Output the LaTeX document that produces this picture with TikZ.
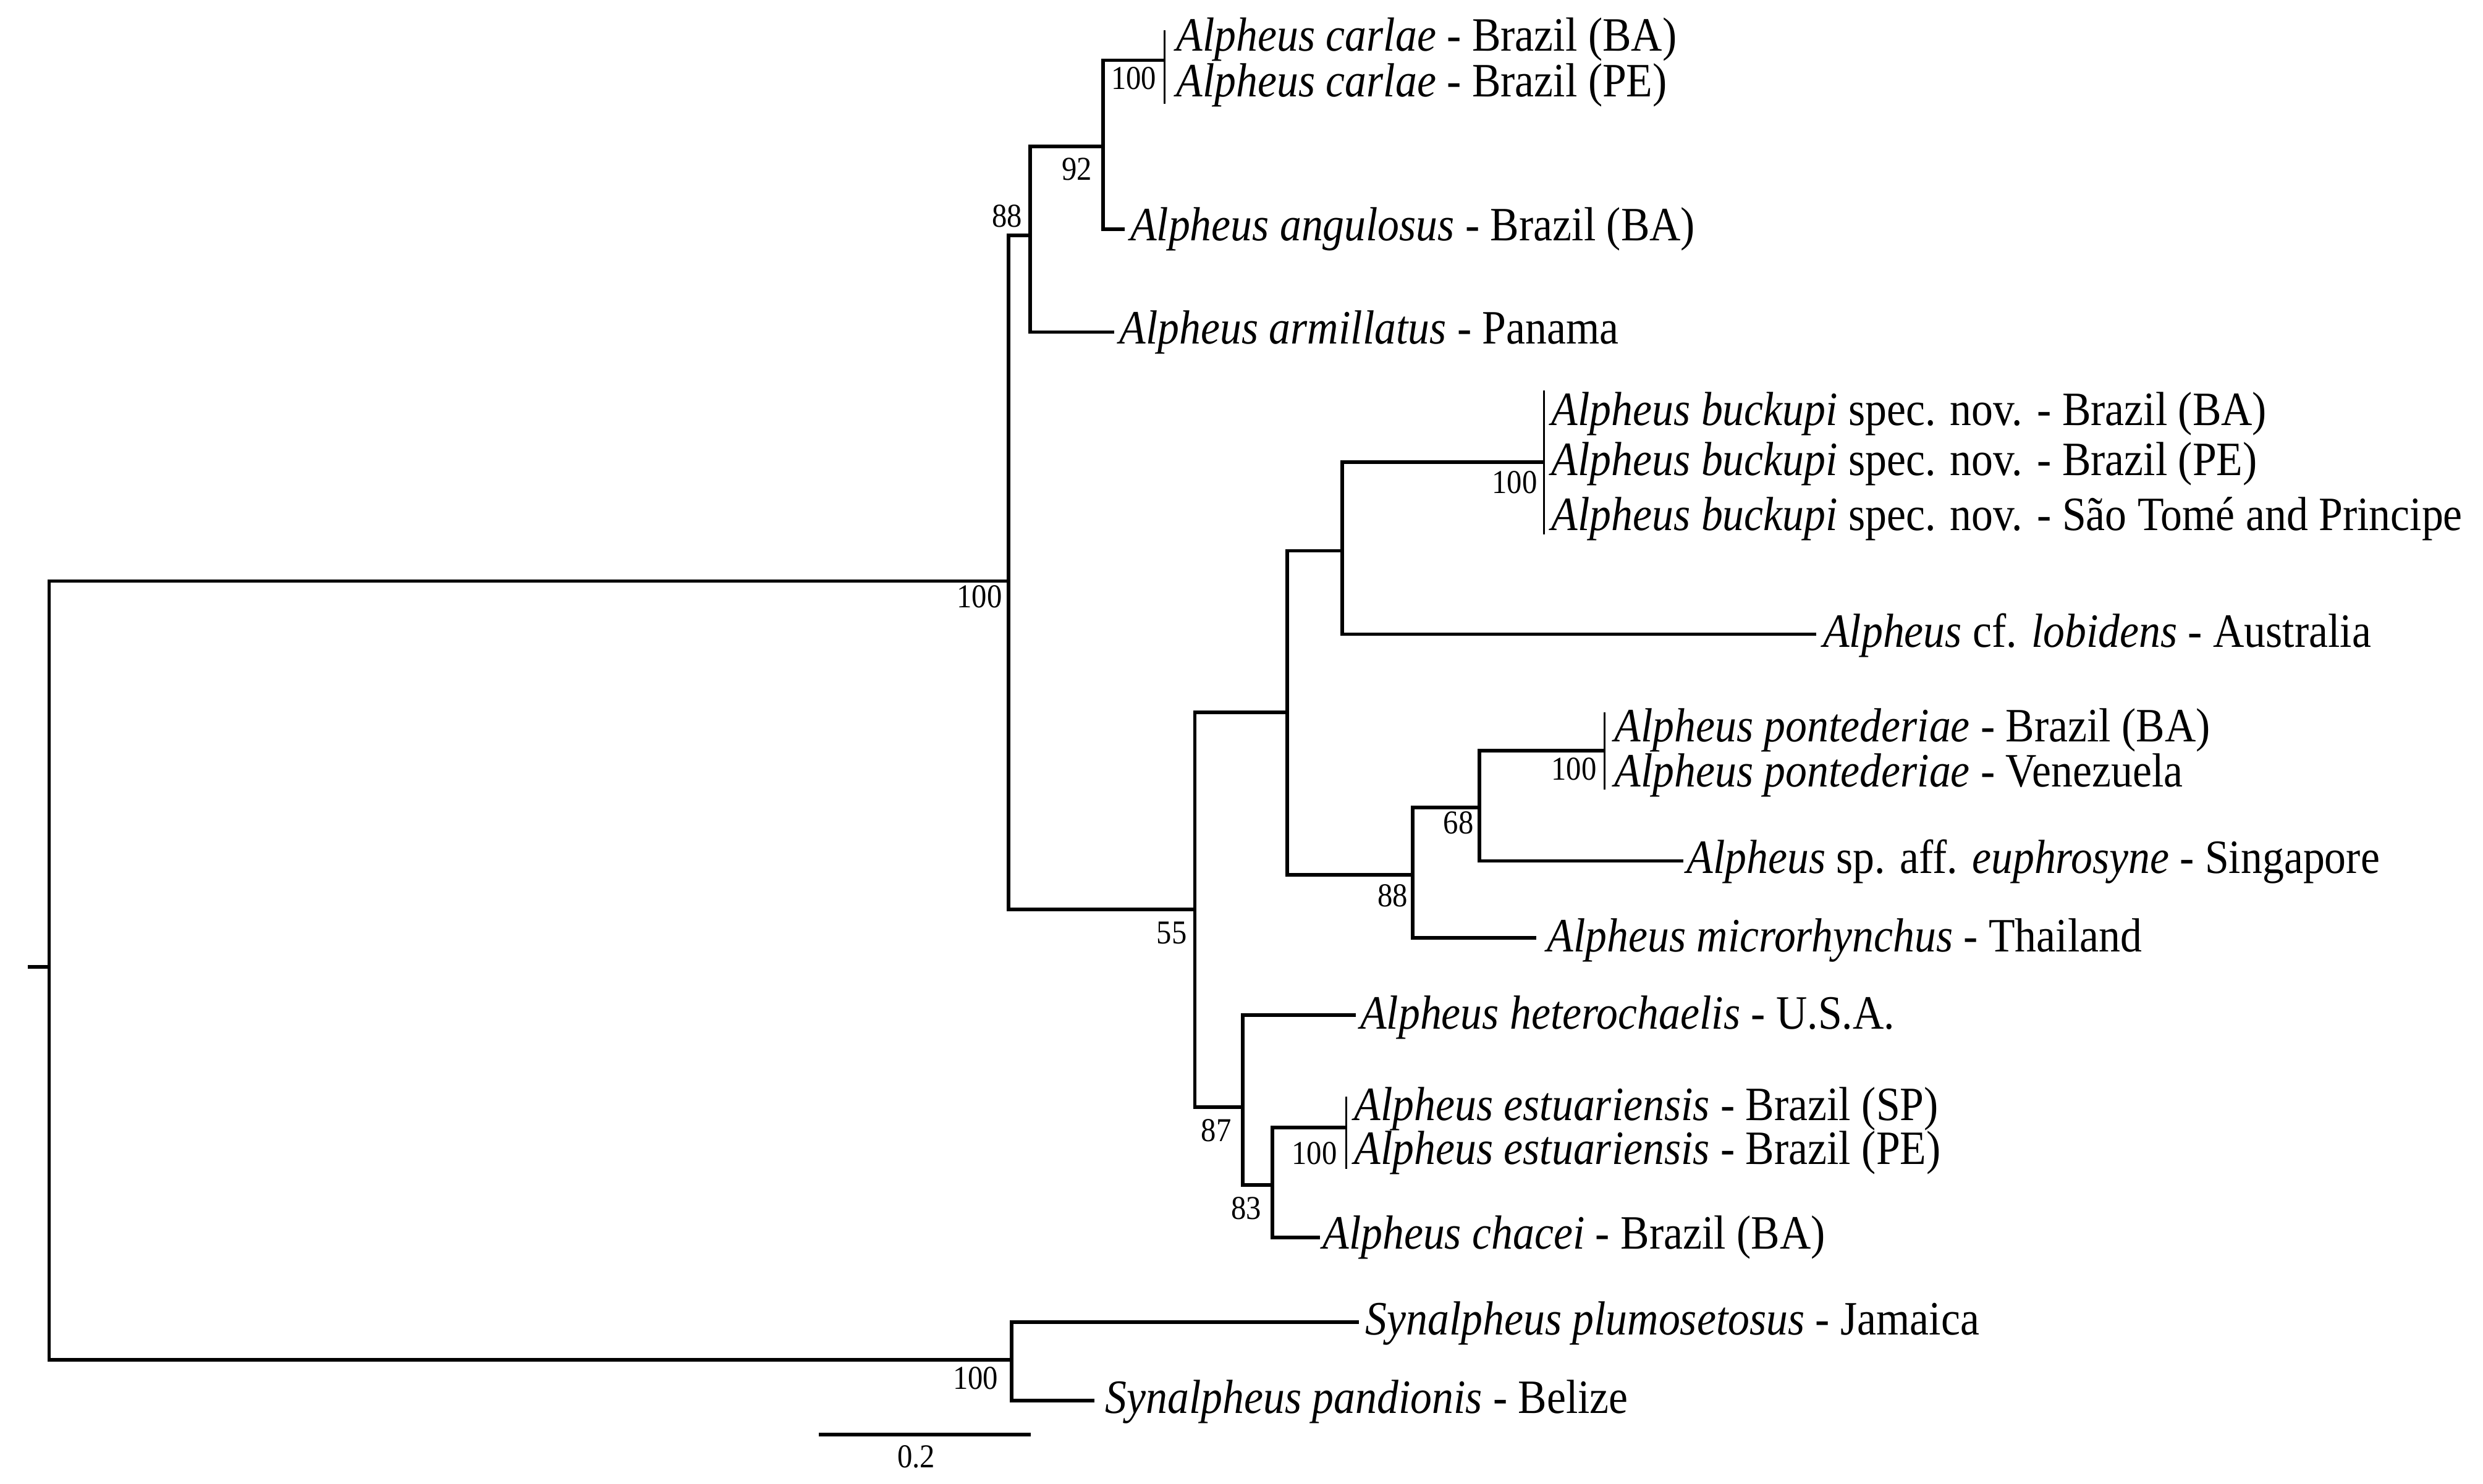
\documentclass[tikz,border=0pt]{standalone}
\usepackage{fontspec}
\setmainfont{Liberation Serif}[FakeStretch=0.9]
\usetikzlibrary{positioning}

\begin{document}
\begin{tikzpicture}[
  x=0.025cm, y=-0.025cm,
  branch/.style={line width=1.6pt},
  tipbar/.style={line width=0.8pt},
  taxon/.style={anchor=base west, inner sep=0pt, font=\fontsize{21.5}{25}\selectfont},
  boot/.style={inner sep=0pt, font=\fontsize{15}{17}\selectfont}
]
  \useasboundingbox (0,0) rectangle (1568,937);

  % internal nodes
  \coordinate (root0) at (17.6,610.7);
  \coordinate (root) at (31,610.7);
  \coordinate (nA) at (637,367);
  \coordinate (nSyn) at (638.7,858.8);
  \coordinate (n88) at (650.4,148.6);
  \coordinate (n92) at (696.7,92.6);
  \coordinate (nCar) at (735.5,38.1);
  \coordinate (n55) at (754.5,574.3);
  \coordinate (nUp) at (812.8,450);
  \coordinate (nBuc) at (847.6,347.9);
  \coordinate (nBucC) at (975,292);
  \coordinate (n88b) at (892.1,552.5);
  \coordinate (n68) at (934.2,510);
  \coordinate (nPon) at (1013.3,474.2);
  \coordinate (n87) at (784.7,699.2);
  \coordinate (n83) at (803.5,748.6);
  \coordinate (nEst) at (850,712.2);

  % branch tips
  \coordinate (tAng) at (710.2,144.9);
  \coordinate (tArm) at (703.5,209.8);
  \coordinate (tLob) at (1147,400.6);
  \coordinate (tEup) at (1063,543.8);
  \coordinate (tMic) at (970,592.5);
  \coordinate (tHet) at (856.1,641.3);
  \coordinate (tCha) at (833.5,781.8);
  \coordinate (tPlu) at (858,835.1);
  \coordinate (tPan) at (691,884.6);

  % ends of the bars of identical sequences
  \coordinate (carT) at (735.5,19.1);
  \coordinate (carB) at (735.5,65.7);
  \coordinate (bucT) at (975,246.5);
  \coordinate (bucB) at (975,337.5);
  \coordinate (ponT) at (1013.3,450.1);
  \coordinate (ponB) at (1013.3,498.9);
  \coordinate (estT) at (850,692.7);
  \coordinate (estB) at (850,738.2);

  % scale bar
  \coordinate (sbL) at (517,906);
  \coordinate (sbR) at (651,906);

  % branches
  \draw[branch] (root0) -- (root);
  \draw[branch] (nA) -| (root) |- (nSyn);
  \draw[branch] (n88) -| (nA) |- (n55);
  \draw[branch] (n92) -| (n88) |- (tArm);
  \draw[branch] (nCar) -| (n92) |- (tAng);
  \draw[branch] (nUp) -| (n55) |- (n87);
  \draw[branch] (nBuc) -| (nUp) |- (n88b);
  \draw[branch] (nBucC) -| (nBuc) |- (tLob);
  \draw[branch] (n68) -| (n88b) |- (tMic);
  \draw[branch] (nPon) -| (n68) |- (tEup);
  \draw[branch] (tHet) -| (n87) |- (n83);
  \draw[branch] (nEst) -| (n83) |- (tCha);
  \draw[branch] (tPlu) -| (nSyn) |- (tPan);
  \draw[tipbar] (carT) -- (carB);
  \draw[tipbar] (bucT) -- (bucB);
  \draw[tipbar] (ponT) -- (ponB);
  \draw[tipbar] (estT) -- (estB);
  \draw[branch] (sbL) -- (sbR);

  % bootstrap values
  \node[boot] (bA) at (618.5,377) {100};
  \node[boot] (b88) at (636,136.5) {88};
  \node[boot] (b92) at (680,106.8) {92};
  \node[boot] (bCar) at (716,49.3) {100};
  \node[boot] (b55) at (740,589.3) {55};
  \node[boot] (bBuc) at (956.5,304.7) {100};
  \node[boot] (b88b) at (879.5,565.9) {88};
  \node[boot] (b68) at (921,519.7) {68};
  \node[boot] (bPon) at (994,485.9) {100};
  \node[boot] (b87) at (768,714.2) {87};
  \node[boot] (bEst) at (830,728.5) {100};
  \node[boot] (b83) at (787,763.2) {83};
  \node[boot] (bSyn) at (616,870.5) {100};
  \node[boot] (sbLabel) at (578.5,920) {0.2};

  % taxa
  \node[taxon] (carBA) at (742.7,32.1) {\textit{Alpheus carlae} - Brazil (BA)};
  \node[taxon] (carPE) at (742.7,61.2) {\textit{Alpheus carlae} - Brazil (PE)};
  \node[taxon] (ang) at (713.5,152) {\textit{Alpheus angulosus} - Brazil (BA)};
  \node[taxon] (arm) at (706.8,217.3) {\textit{Alpheus armillatus} - Panama};
  \node[taxon] (bucBA) at (979.6,268.6) {\textit{Alpheus buckupi} spec. nov. - Brazil (BA)};
  \node[taxon] (bucPE) at (979.6,300.4) {\textit{Alpheus buckupi} spec. nov. - Brazil (PE)};
  \node[taxon] (bucST) at (979.6,334.9) {\textit{Alpheus buckupi} spec. nov. - São Tomé and Principe};
  \node[taxon] (lob) at (1151,408.6) {\textit{Alpheus} cf. \textit{lobidens} - Australia};
  \node[taxon] (ponBA) at (1019.3,468.3) {\textit{Alpheus pontederiae} - Brazil (BA)};
  \node[taxon] (ponVE) at (1019.3,497) {\textit{Alpheus pontederiae} - Venezuela};
  \node[taxon] (eup) at (1065,551.8) {\textit{Alpheus} sp. aff. \textit{euphrosyne} - Singapore};
  \node[taxon] (mic) at (976.8,601) {\textit{Alpheus microrhynchus} - Thailand};
  \node[taxon] (het) at (858.7,650) {\textit{Alpheus heterochaelis} - U.S.A.};
  \node[taxon] (estSP) at (855,707.7) {\textit{Alpheus estuariensis} - Brazil (SP)};
  \node[taxon] (estPE) at (855,735.6) {\textit{Alpheus estuariensis} - Brazil (PE)};
  \node[taxon] (cha) at (835,789) {\textit{Alpheus chacei} - Brazil (BA)};
  \node[taxon] (plu) at (862,843) {\textit{Synalpheus plumosetosus} - Jamaica};
  \node[taxon] (pan) at (697.7,892.5) {\textit{Synalpheus pandionis} - Belize};
\end{tikzpicture}
\end{document}
